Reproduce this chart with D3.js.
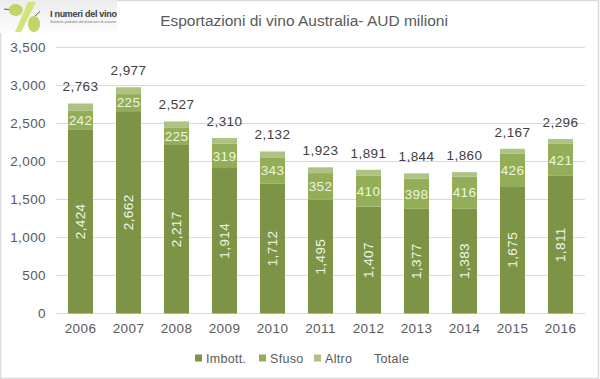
<!DOCTYPE html>
<html lang="en">
<head>
    <meta charset="UTF-8">
    <title>Esportazioni di vino Australia</title>
    <script src="https://d3js.org/d3.v7.min.js"></script>
    <style>
        html, body { margin: 0; padding: 0; background: #fff; }
        svg { display: block; }
        text { font-family: "Liberation Sans", Arial, sans-serif; }
    </style>
</head>
<body>
    <svg width="600" height="379"></svg>
    <script type="text/javascript">
        var years = ["2006", "2007", "2008", "2009", "2010", "2011", "2012", "2013", "2014", "2015", "2016"];
        var imbott = [2424, 2662, 2217, 1914, 1712, 1495, 1407, 1377, 1383, 1675, 1811];
        var sfuso = [242, 225, 225, 319, 343, 352, 410, 398, 416, 426, 421];
        var altro = [97, 90, 85, 77, 77, 76, 74, 69, 61, 66, 64];
        var totale = [2763, 2977, 2527, 2310, 2132, 1923, 1891, 1844, 1860, 2167, 2296];
        var yTicks = [0, 500, 1000, 1500, 2000, 2500, 3000, 3500];
        var legendNames = ["Imbott.", "Sfuso", "Altro", "Totale"];

        var colors = { imbott: "#7d9447", sfuso: "#93ae58", altro: "#adc283" };
        var textColor = "#595959";

        var svg = d3.select("svg");

        // Chart frame
        svg.append("rect")
           .attr("x", 0.5).attr("y", 0.5)
           .attr("width", 598).attr("height", 378)
           .attr("fill", "#fff")
           .attr("stroke", "#d9d9d9")
           .attr("stroke-width", 1.5);

        // Scales
        var x = d3.scaleBand()
                  .domain(years)
                  .range([56.5, 584.5])
                  .paddingInner(23 / 48)
                  .paddingOuter(23 / 96);

        var y = d3.scaleLinear()
                  .domain([0, 3500])
                  .range([313.5, 47.5]);

        // Gridlines
        svg.append("g")
           .selectAll("line")
           .data(yTicks)
           .enter().append("line")
           .attr("x1", 56).attr("x2", 585)
           .attr("y1", function(d) { return y(d); })
           .attr("y2", function(d) { return y(d); })
           .attr("stroke", "#d9d9d9")
           .attr("stroke-width", 1);

        // Stacked bars
        var stackData = years.map(function(yr, i) {
            return { year: yr, imbott: imbott[i], sfuso: sfuso[i], altro: altro[i] };
        });
        var stack = d3.stack().keys(["imbott", "sfuso", "altro"])(stackData);

        svg.append("g")
           .selectAll("g")
           .data(stack)
           .enter().append("g")
           .attr("fill", function(s) { return colors[s.key]; })
           .selectAll("rect")
           .data(function(s) { return s; })
           .enter().append("rect")
           .attr("x", function(d) { return x(d.data.year); })
           .attr("width", x.bandwidth())
           .attr("y", function(d) { return y(d[1]); })
           .attr("height", function(d) { return y(d[0]) - y(d[1]); });

        // Labels inside the bars
        svg.append("g")
           .selectAll("text")
           .data(years)
           .enter().append("text")
           .attr("transform", function(d, i) {
               return "translate(" + (x(d) + x.bandwidth() / 2) + "," + y(imbott[i] / 2) + ") rotate(-90)";
           })
           .attr("text-anchor", "middle")
           .attr("dy", "0.36em")
           .attr("font-size", "13.5px")
           .attr("letter-spacing", "0.4px")
           .attr("fill", "#f4f6ea")
           .text(function(d, i) { return d3.format(",")(imbott[i]); });

        svg.append("g")
           .selectAll("text")
           .data(years)
           .enter().append("text")
           .attr("x", function(d) { return x(d) + x.bandwidth() / 2; })
           .attr("y", function(d, i) { return y(imbott[i] + sfuso[i] / 2); })
           .attr("text-anchor", "middle")
           .attr("dy", "0.36em")
           .attr("font-size", "13.5px")
           .attr("letter-spacing", "0.4px")
           .attr("fill", "#eff4dd")
           .text(function(d, i) { return sfuso[i]; });

        // Totals above the bars
        svg.append("g")
           .selectAll("text")
           .data(years)
           .enter().append("text")
           .attr("x", function(d) { return x(d) + x.bandwidth() / 2; })
           .attr("y", function(d, i) { return y(totale[i]) - 17; })
           .attr("text-anchor", "middle")
           .attr("dy", "0.36em")
           .attr("font-size", "13.5px")
           .attr("letter-spacing", "0.4px")
           .attr("fill", "#404040")
           .text(function(d, i) { return d3.format(",")(totale[i]); });

        // Axes
        svg.append("g")
           .attr("transform", "translate(0,313.5)")
           .call(d3.axisBottom(x).tickSize(0).tickPadding(10))
           .call(function(g) { g.select(".domain").remove(); })
           .selectAll("text")
           .attr("font-size", "13.5px")
           .attr("letter-spacing", "0.4px")
           .attr("fill", textColor);

        svg.append("g")
           .attr("transform", "translate(46,0)")
           .call(d3.axisLeft(y).tickValues(yTicks).tickSize(0).tickPadding(0).tickFormat(d3.format(",")))
           .call(function(g) { g.select(".domain").remove(); })
           .selectAll("text")
           .attr("font-size", "13.5px")
           .attr("letter-spacing", "0.4px")
           .attr("fill", textColor);

        // Title
        svg.append("text")
           .attr("x", 304).attr("y", 26)
           .attr("text-anchor", "middle")
           .attr("font-size", "15.5px")
           .attr("fill", textColor)
           .text("Esportazioni di vino Australia- AUD milioni");

        // Legend
        var legendX = [195, 259, 314, 363];
        var legendColors = [colors.imbott, colors.sfuso, colors.altro, null];
        var legend = svg.append("g")
                        .selectAll("g")
                        .data(legendNames)
                        .enter().append("g")
                        .attr("transform", function(d, i) { return "translate(" + legendX[i] + ",358.5)"; });
        legend.filter(function(d, i) { return legendColors[i] !== null; })
              .append("rect")
              .attr("y", -4)
              .attr("width", 7).attr("height", 7)
              .attr("fill", function(d) { return legendColors[legendNames.indexOf(d)]; });
        legend.append("text")
              .attr("x", 11)
              .attr("dy", "0.36em")
              .attr("font-size", "12.5px")
              .attr("letter-spacing", "0.3px")
              .attr("fill", textColor)
              .text(function(d) { return d; });

        // Logo
        var defs = svg.append("defs");
        var bg = defs.append("linearGradient").attr("id", "logoBg").attr("x1", 0).attr("x2", 0).attr("y1", 0).attr("y2", 1);
        bg.append("stop").attr("offset", "0").attr("stop-color", "#ececec");
        bg.append("stop").attr("offset", "1").attr("stop-color", "#fdfdfd");

        var logo = svg.append("g");
        logo.append("rect").attr("width", 117).attr("height", 33).attr("fill", "url(#logoBg)");
        logo.append("polygon")
            .attr("points", "28,2 36,2 21,32 15,32")
            .attr("fill", "#d3e47c");
        logo.append("ellipse")
            .attr("cx", 15.7).attr("cy", 10).attr("rx", 7).attr("ry", 6)
            .attr("fill", "#bfd566");
        logo.append("ellipse")
            .attr("cx", 34).attr("cy", 24).attr("rx", 6).attr("ry", 8)
            .attr("fill", "#bfd566");
        logo.append("path")
            .attr("d", "M35,16 L40,11.5 M9,9.5 L4,9")
            .attr("stroke", "#6b5a35")
            .attr("fill", "none");
        logo.append("text")
            .attr("x", 50).attr("y", 16.7)
            .attr("font-size", "9px")
            .attr("font-weight", "bold")
            .attr("textLength", 67)
            .attr("fill", "#3b3b3b")
            .text("I numeri del vino");
        logo.append("text")
            .attr("x", 50).attr("y", 22.5)
            .attr("font-size", "3.2px")
            .attr("textLength", 66)
            .attr("fill", "#777")
            .text("Statistiche, produttive, dati di mercato e di consumo");
    </script>
</body>
</html>
